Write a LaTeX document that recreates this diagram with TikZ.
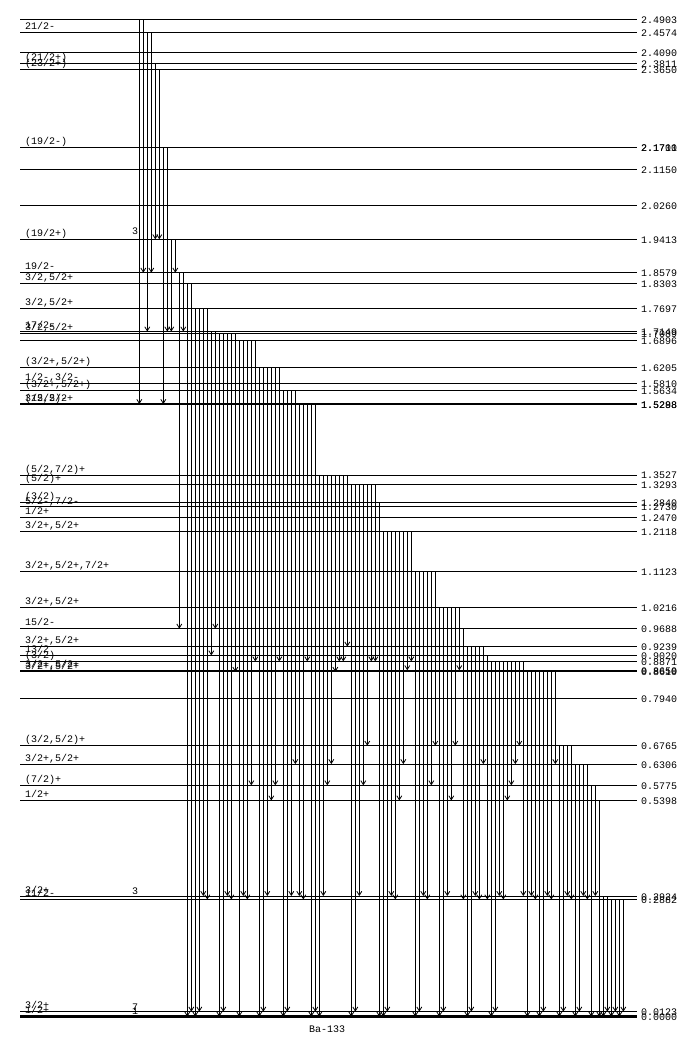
\documentclass[tikz,border=0pt]{standalone}
\usepackage{fontspec}
\setmonofont{Liberation Mono}
\usetikzlibrary{arrows.meta}
\newcommand\Ylev[1]{1016.6-400.4*#1}
\newcommand\mylevel[5]{%
  \draw[lvl,line width=#5] (20,{\Ylev{#1}}) -- (637,{\Ylev{#1}});
  \node[lab,anchor=base west] (L#4) at (25,{\Ylev{#1}-2.8}) {#2};
  \node[lab,anchor=base west] (R#4) at (641,{\Ylev{#1}+4}) {#3};
}
\begin{document}
\begin{tikzpicture}[x=1pt,y=-1pt,
  lvl/.style={draw=black},
  tr/.style={line width=0.8pt,-{Straight Barb[length=4pt,width=5pt]}},
  lab/.style={font=\ttfamily\fontsize{10}{10}\selectfont,inner sep=0pt}]
\useasboundingbox (0,0) rectangle (689,1038);
\fill[white] (0,0) rectangle (689,1038);
\mylevel{2.4903}{}{2.4903}{a1}{0.9pt}
\mylevel{2.4574}{21/2-}{2.4574}{a2}{0.9pt}
\mylevel{2.4090}{}{2.4090}{a3}{0.9pt}
\mylevel{2.3811}{(21/2+)}{2.3811}{a4}{0.9pt}
\mylevel{2.3650}{(23/2+)}{2.3650}{a5}{0.9pt}
\mylevel{2.1700}{(19/2-)}{2.1700}{a6}{0.9pt}
\node[lab,anchor=base west] (Ra6b) at (641,{\Ylev{2.1700}+4}) {2.1711};
\mylevel{2.1150}{}{2.1150}{a7}{0.9pt}
\mylevel{2.0260}{}{2.0260}{a8}{0.9pt}
\mylevel{1.9413}{(19/2+)}{1.9413}{a9}{0.9pt}
\mylevel{1.8579}{19/2-}{1.8579}{a10}{0.9pt}
\mylevel{1.8303}{3/2,5/2+}{1.8303}{a11}{0.9pt}
\mylevel{1.7697}{3/2,5/2+}{1.7697}{a12}{0.9pt}
\mylevel{1.7109}{17/2-}{1.7149}{a13}{0.9pt}
\mylevel{1.7069}{3/2,5/2+}{1.7089}{a14}{0.9pt}
\mylevel{1.6896}{}{1.6896}{a15}{0.9pt}
\mylevel{1.6205}{(3/2+,5/2+)}{1.6205}{a16}{0.9pt}
\mylevel{1.5810}{1/2-,3/2-}{1.5810}{a17}{0.9pt}
\mylevel{1.5634}{(3/2+,5/2+)}{1.5634}{a18}{0.9pt}
\mylevel{1.5298}{3/2,5/2+}{1.5298}{a19}{1.8pt}
\mylevel{1.5288}{(15/2)-}{1.5288}{a20}{0.9pt}
\mylevel{1.3527}{(5/2,7/2)+}{1.3527}{b1}{0.9pt}
\mylevel{1.3293}{(5/2)+}{1.3293}{b2}{0.9pt}
\mylevel{1.2840}{(3/2)}{1.2840}{b3}{0.9pt}
\mylevel{1.2730}{5/2-,7/2-}{1.2730}{b4}{0.9pt}
\mylevel{1.2470}{1/2+}{1.2470}{b5}{0.9pt}
\mylevel{1.2118}{3/2+,5/2+}{1.2118}{b6}{0.9pt}
\mylevel{1.1123}{3/2+,5/2+,7/2+}{1.1123}{b7}{0.9pt}
\mylevel{1.0216}{3/2+,5/2+}{1.0216}{b8}{0.9pt}
\mylevel{0.9688}{15/2-}{0.9688}{b9}{0.9pt}
\mylevel{0.9239}{3/2+,5/2+}{0.9239}{b10}{0.9pt}
\mylevel{0.9020}{13/2}{0.9020}{b11}{0.9pt}
\mylevel{0.8870}{(3/2)}{0.8871}{b12}{1.8pt}
\mylevel{0.8650}{3/2+,5/2+}{0.8650}{b13}{0.9pt}
\mylevel{0.8610}{3/2+,5/2+}{0.8610}{b14}{0.9pt}
\mylevel{0.7940}{}{0.7940}{b15}{0.9pt}
\mylevel{0.6765}{(3/2,5/2)+}{0.6765}{c1}{0.9pt}
\mylevel{0.6306}{3/2+,5/2+}{0.6306}{c2}{0.9pt}
\mylevel{0.5775}{(7/2)+}{0.5775}{c3}{0.9pt}
\mylevel{0.5398}{1/2+}{0.5398}{c4}{0.9pt}
\mylevel{0.3012}{3/2+}{0.2924}{c5}{0.9pt}
\mylevel{0.2924}{11/2-}{0.2882}{c6}{1.8pt}
\mylevel{0.0123}{3/2+}{0.0123}{c7}{0.9pt}
\mylevel{0.0000}{1/2+}{0.0000}{c8}{3.6pt}
\node[lab] (m1) at (135,231) {3};
\node[lab] (m2) at (135,891) {3};
\node[lab] (m3) at (135,1007) {7};
\node[lab] (m4) at (135,1011) {1};
\node[lab] (title) at (327,1029) {Ba-133};
\foreach \k/\a/\b in {
0/2.4903/1.5298, 1/2.4903/1.8579, 2/2.4574/1.7109, 3/2.4574/1.8579,
4/2.3811/1.9413, 5/2.3650/1.9413, 6/2.1700/1.5298, 7/2.1700/1.7109,
8/1.9413/1.7109, 9/1.9413/1.8579, 10/1.8579/0.9688, 11/1.8579/1.7109,
12/1.8303/0, 13/1.8303/0.0123,
14/1.7697/0, 15/1.7697/0.0123, 16/1.7697/0.3012, 17/1.7697/0.2924,
18/1.7109/0.9020, 19/1.7109/0.9688, 20/1.7069/0, 21/1.7069/0.0123, 22/1.7069/0.3012, 23/1.7069/0.2924, 24/1.7069/0.8610,
25/1.6896/0, 26/1.6896/0.3012, 27/1.6896/0.2924, 28/1.6896/0.5775, 29/1.6896/0.8870,
30/1.6205/0, 31/1.6205/0.0123, 32/1.6205/0.3012, 33/1.6205/0.5398, 34/1.6205/0.5775, 35/1.6205/0.8870,
36/1.5634/0, 37/1.5634/0.0123, 38/1.5634/0.3012, 39/1.5634/0.6306,
40/1.5298/0.3012, 41/1.5298/0.2924, 42/1.5298/0.8870, 43/1.5298/0, 44/1.5298/0.0123,
45/1.3527/0, 46/1.3527/0.3012, 47/1.3527/0.5775, 48/1.3527/0.6306, 49/1.3527/0.8610, 50/1.3527/0.8870, 51/1.3527/0.8870, 52/1.3527/0.9239,
53/1.3293/0, 54/1.3293/0.0123, 55/1.3293/0.3012, 56/1.3293/0.5775, 57/1.3293/0.6765, 58/1.3293/0.8870, 59/1.3293/0.8870,
60/1.2840/0,
61/1.2118/0, 62/1.2118/0.0123, 63/1.2118/0.3012, 64/1.2118/0.2924, 65/1.2118/0.5398, 66/1.2118/0.6306, 67/1.2118/0.8650, 68/1.2118/0.8870,
69/1.1123/0, 70/1.1123/0.0123, 71/1.1123/0.3012, 72/1.1123/0.2924, 73/1.1123/0.5775, 74/1.1123/0.6765,
75/1.0216/0, 76/1.0216/0.0123, 77/1.0216/0.3012, 78/1.0216/0.5398, 79/1.0216/0.6765, 80/1.0216/0.8650,
81/0.9688/0.2924,
82/0.9239/0, 83/0.9239/0.0123, 84/0.9239/0.3012, 85/0.9239/0.2924, 86/0.9239/0.6306,
87/0.9020/0.2924,
88/0.8870/0, 89/0.8870/0.0123, 90/0.8870/0.3012, 91/0.8870/0.2924, 92/0.8870/0.5398, 93/0.8870/0.5775, 94/0.8870/0.6306, 95/0.8870/0.6765, 96/0.8870/0.3012,
97/0.8610/0, 98/0.8610/0.3012, 99/0.8610/0.2924, 100/0.8610/0, 101/0.8610/0.0123, 102/0.8610/0.3012, 103/0.8610/0.2924, 104/0.8610/0.6306,
105/0.6765/0, 106/0.6765/0.0123, 107/0.6765/0.3012, 108/0.6765/0.2924,
109/0.6306/0, 110/0.6306/0.0123, 111/0.6306/0.3012, 112/0.6306/0.2924,
113/0.5775/0, 114/0.5775/0.3012, 115/0.5398/0,
116/0.3012/0, 117/0.3012/0.0123, 118/0.2924/0, 119/0.2924/0.0123, 120/0.2924/0, 121/0.2924/0.0123}
{\draw[tr] ({139.3+4*\k},{\Ylev{\a}}) -- ({139.3+4*\k},{\Ylev{\b}});}
\end{tikzpicture}
\end{document}
